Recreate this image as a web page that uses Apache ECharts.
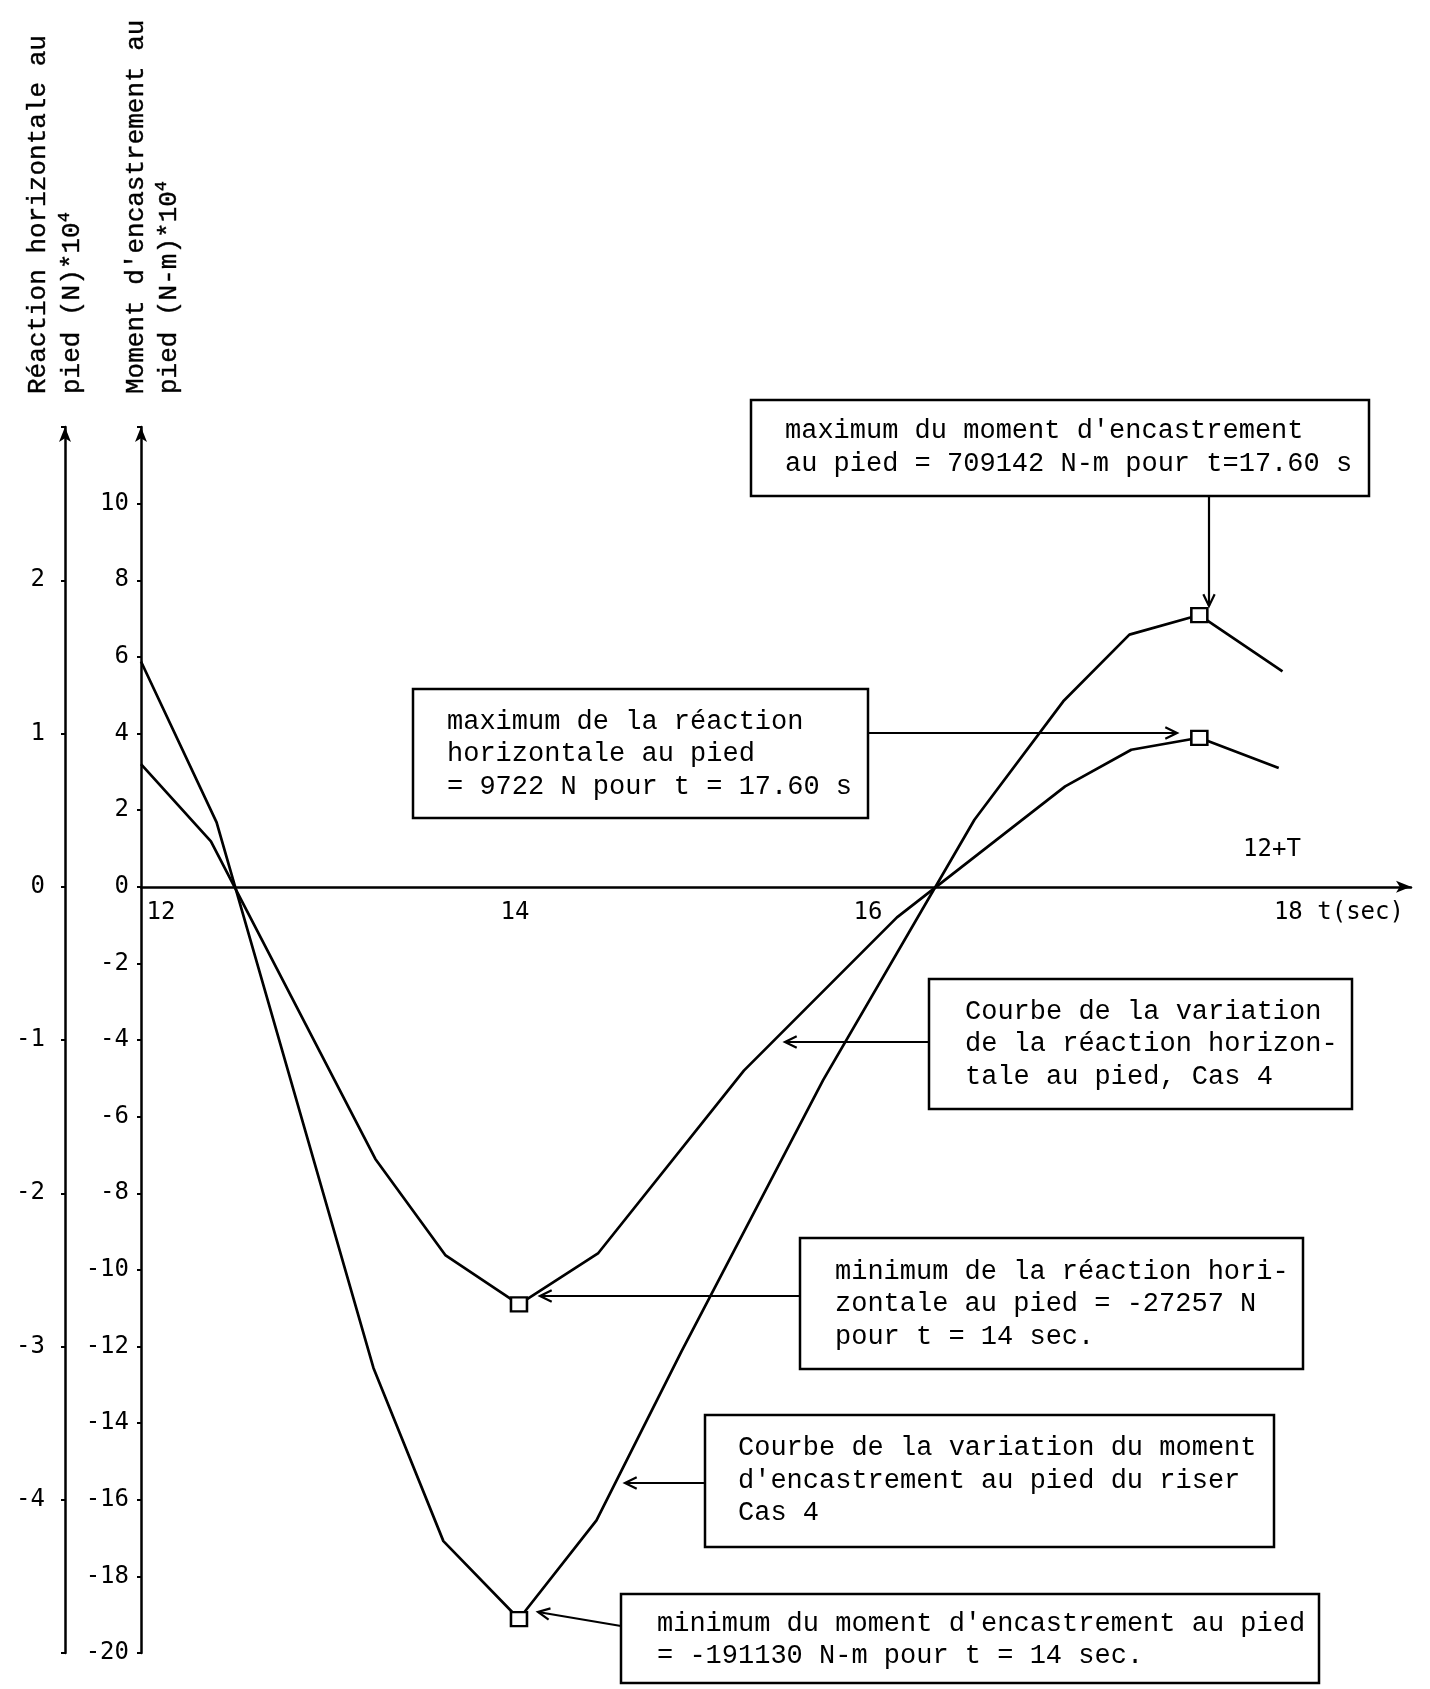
<!DOCTYPE html>
<html><head><meta charset="utf-8">
<script src="https://cdn.jsdelivr.net/npm/echarts@6/dist/echarts.min.js"></script>
<style>html,body{margin:0;padding:0;background:#fff}#c{width:1430px;height:1689px}</style>
</head><body><div id="c"></div>
<script>
// Moment d'encastrement (N-m) * 10^4
const momentTimes  = [12, 12.4, 13.23, 13.6, 14.0, 14.41, 14.86, 15.61, 16.41, 16.88, 17.23, 17.6, 18.04];
const momentValues = [5.88, 1.68, -12.56, -17.08, -19.113, -16.54, -12.13, -5.04, 1.75, 4.84, 6.58, 7.0914, 5.62];
// Réaction horizontale (N) * 10^4
const reactionTimes  = [12, 12.37, 13.24, 13.61, 14.0, 14.42, 15.19, 16.0, 16.89, 17.24, 17.6, 18.02];
const reactionValues = [0.80, 0.296, -1.776, -2.403, -2.7257, -2.39, -1.2, -0.2, 0.655, 0.894, 0.9722, 0.775];
// extremum markers (t)
const markerTimes = [14, 17.6];
// axis tick labels
const xTickLabels = {12: '12', 14: '14', 16: '16', 18: '18 t(sec)'};
const momentTickLabels = [-20,-18,-16,-14,-12,-10,-8,-6,-4,-2,0,2,4,6,8,10];
const reactionTickLabels = [-4,-3,-2,-1,0,1,2];

const MONO = '"DejaVu Sans Mono", monospace';
const TYPE = '"Liberation Mono", "Courier New", monospace';

const W = 1430, H = 1689;
const GRID = {left: 141, right: 19, top: 427, bottom: 36};
const Y_MIN = -20, Y_MAX = 12;
// place the time axis on the moment zero line
const plotH = H - GRID.top - GRID.bottom;
const zeroY = GRID.top + plotH * (Y_MAX - 0) / (Y_MAX - Y_MIN);
const xAxisOffset = -((H - GRID.bottom) - zeroY);

const chart = echarts.init(document.getElementById('c'), null, {renderer: 'canvas'});

function pairs(ts, vs) { return ts.map((t, i) => [t, vs[i]]); }
function markerSize(val) {
  return markerTimes.some(t => Math.abs(t - val[0]) < 1e-6) ? [16, 14] : 0;
}

const boxes = [
  {x: 751, y: 400, w: 618, h: 96, tx: 785, ty: [431, 464],
   lines: ["maximum du moment d'encastrement", "au pied = 709142 N-m pour t=17.60 s"]},
  {x: 413, y: 689, w: 455, h: 129, tx: 447, ty: [722, 754, 787],
   lines: ["maximum de la réaction", "horizontale au pied", "= 9722 N pour t = 17.60 s"]},
  {x: 929, y: 979, w: 423, h: 130, tx: 965, ty: [1012, 1044, 1077],
   lines: ["Courbe de la variation", "de la réaction horizon-", "tale au pied, Cas 4"]},
  {x: 800, y: 1238, w: 503, h: 131, tx: 835, ty: [1272, 1304, 1337],
   lines: ["minimum de la réaction hori-", "zontale au pied = -27257 N", "pour t = 14 sec."]},
  {x: 705, y: 1415, w: 569, h: 132, tx: 738, ty: [1448, 1481, 1513],
   lines: ["Courbe de la variation du moment", "d'encastrement au pied du riser", "Cas 4"]},
  {x: 621, y: 1594, w: 698, h: 89, tx: 657, ty: [1624, 1656],
   lines: ["minimum du moment d'encastrement au pied", "= -191130 N-m pour t = 14 sec."]}
];
const arrows = [
  [[1209, 496], [1209, 606]],
  [[868, 733], [1177, 733]],
  [[929, 1042], [785, 1042]],
  [[800, 1296], [540, 1296]],
  [[705, 1483], [625, 1483]],
  [[621, 1626], [538, 1612]]
];

const graphics = [];
boxes.forEach(b => {
  graphics.push({type: 'rect', shape: {x: b.x, y: b.y, width: b.w, height: b.h},
    style: {fill: 'none', stroke: '#000', lineWidth: 2.5}, z: 10});
  b.lines.forEach((ln, i) => {
    graphics.push({type: 'text', x: b.tx, y: b.ty[i],
      style: {text: ln, font: '27px ' + TYPE, fill: '#000', textAlign: 'left', textVerticalAlign: 'middle'}, z: 10});
  });
});
arrows.forEach(a => {
  const [p0, p1] = a;
  graphics.push({type: 'line', shape: {x1: p0[0], y1: p0[1], x2: p1[0], y2: p1[1]},
    style: {stroke: '#000', lineWidth: 2.2}, z: 10});
  const ang = Math.atan2(p1[1] - p0[1], p1[0] - p0[0]);
  const L = 13, th = 0.45;
  const w1 = [p1[0] - L * Math.cos(ang - th), p1[1] - L * Math.sin(ang - th)];
  const w2 = [p1[0] - L * Math.cos(ang + th), p1[1] - L * Math.sin(ang + th)];
  graphics.push({type: 'polyline', shape: {points: [w1, p1, w2]},
    style: {stroke: '#000', fill: 'none', lineWidth: 2.2}, z: 10});
});
graphics.push({type: 'text', x: 1272, y: 850,
  style: {text: '12+T', font: '24px ' + MONO, fill: '#000', textAlign: 'center', textVerticalAlign: 'middle'}});
// Axis titles (rotated)
const titles = [
  {x: 38, text: 'Réaction horizontale au'},
  {x: 72, text: 'pied (N)*10{s|4}'},
  {x: 136, text: "Moment d'encastrement au"},
  {x: 169, text: 'pied (N-m)*10{s|4}'}
];
titles.forEach(t => {
  graphics.push({type: 'text', x: t.x, y: 394, rotation: Math.PI / 2,
    style: {text: t.text, font: '26px ' + TYPE, fill: '#000', textAlign: 'left', textVerticalAlign: 'middle',
      stroke: '#000', lineWidth: 0.4,
      rich: {s: {fontSize: 17, fontFamily: TYPE, padding: [0, 0, 16, 0], fill: '#000'}}}});
});

const LBL = 24;
const option = {
  animation: false,
  backgroundColor: '#fff',
  textStyle: {fontFamily: MONO, color: '#000'},
  grid: Object.assign({containLabel: false, outerBoundsMode: 'none'}, GRID),
  xAxis: {
    type: 'value', min: 12, max: 18.72, interval: 2, position: 'bottom', offset: xAxisOffset,
    axisLine: {show: true, onZero: false, symbol: ['none', 'arrow'], symbolSize: [9, 15],
      lineStyle: {color: '#000', width: 2.5}},
    axisTick: {show: false},
    splitLine: {show: false},
    axisLabel: {
      show: true, margin: 14, color: '#000', fontFamily: MONO, fontSize: LBL, hideOverlap: false,
      showMinLabel: true, showMaxLabel: true,
      formatter: function (v) {
        const k = Math.round(v);
        if (Math.abs(v - k) > 1e-6 || !(k in xTickLabels)) return '';
        const key = {12: 'a', 14: 'b', 16: 'c', 18: 'd'}[k];
        return '{' + key + '|' + xTickLabels[k] + '}';
      },
      rich: {
        a: {fontFamily: MONO, fontSize: LBL, color: '#000', padding: [0, 0, 0, 40]},
        b: {fontFamily: MONO, fontSize: LBL, color: '#000', padding: [0, 8, 0, 0]},
        c: {fontFamily: MONO, fontSize: LBL, color: '#000', padding: [0, 58, 0, 0]},
        d: {fontFamily: MONO, fontSize: LBL, color: '#000', padding: [0, 0, 0, 128]}
      }
    }
  },
  yAxis: [
    {
      type: 'value', min: Y_MIN, max: Y_MAX, interval: 2, position: 'left', offset: 0,
      axisLine: {show: true, onZero: false, symbol: ['none', 'arrow'], symbolSize: [9, 15],
        lineStyle: {color: '#000', width: 2.5}},
      axisTick: {show: true, length: 4, lineStyle: {color: '#000', width: 2}},
      splitLine: {show: false},
      axisLabel: {margin: 12, color: '#000', fontFamily: MONO, fontSize: LBL,
        formatter: v => momentTickLabels.includes(Math.round(v)) ? String(Math.round(v)) : ''}
    },
    {
      type: 'value', min: -5, max: 3, interval: 1, position: 'left', offset: 76,
      axisLine: {show: true, onZero: false, symbol: ['none', 'arrow'], symbolSize: [9, 15],
        lineStyle: {color: '#000', width: 2.5}},
      axisTick: {show: true, length: 4, lineStyle: {color: '#000', width: 2}},
      splitLine: {show: false},
      axisLabel: {margin: 20, color: '#000', fontFamily: MONO, fontSize: LBL,
        formatter: v => reactionTickLabels.includes(Math.round(v)) ? String(Math.round(v)) : ''}
    }
  ],
  series: [
    {
      name: 'Moment', type: 'line', yAxisIndex: 0, data: pairs(momentTimes, momentValues),
      lineStyle: {color: '#000', width: 2.7}, symbol: 'rect', symbolSize: markerSize, showSymbol: true,
      itemStyle: {color: '#fff', borderColor: '#000', borderWidth: 2.4}, z: 5
    },
    {
      name: 'Réaction', type: 'line', yAxisIndex: 1, data: pairs(reactionTimes, reactionValues),
      lineStyle: {color: '#000', width: 2.7}, symbol: 'rect', symbolSize: markerSize, showSymbol: true,
      itemStyle: {color: '#fff', borderColor: '#000', borderWidth: 2.4}, z: 5
    }
  ],
  graphic: graphics
};
chart.setOption(option);
</script>
</body></html>
